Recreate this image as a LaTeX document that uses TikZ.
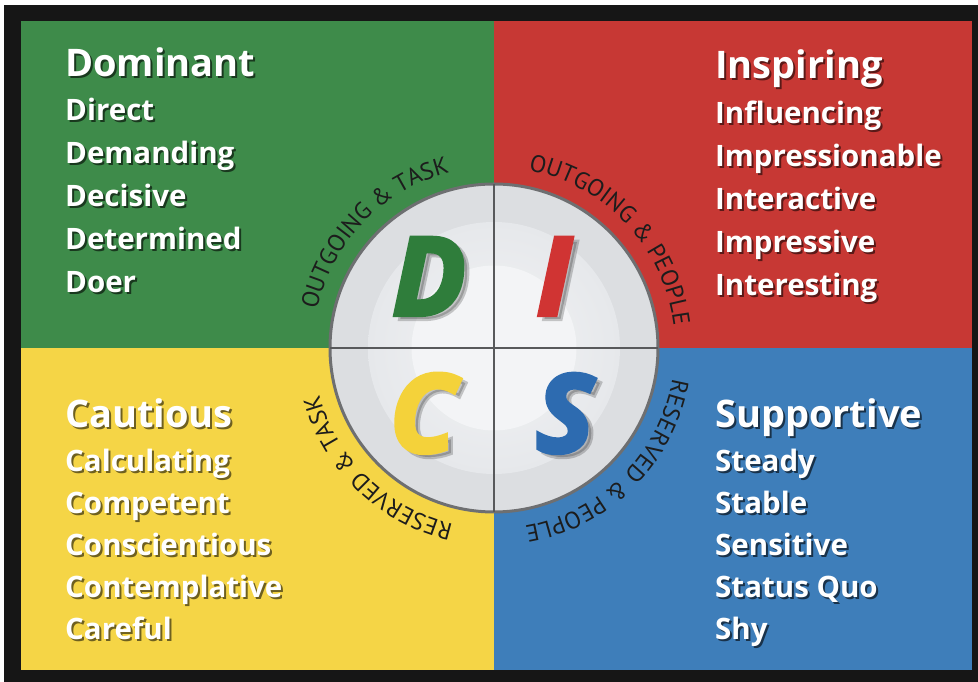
\documentclass[tikz,border=0pt]{standalone}
\usepackage{fontspec}
\setmainfont{Open Sans}
\newfontfamily\captionfont{PT Sans}
\newfontfamily\letterfont[FakeBold=4]{Open Sans}
\usetikzlibrary{positioning,decorations.text}

\definecolor{discgreen}{HTML}{3E8B4A}
\definecolor{discred}{HTML}{C73834}
\definecolor{discyellow}{HTML}{F5D546}
\definecolor{discblue}{HTML}{3E7EBA}
\definecolor{frameink}{HTML}{161616}
\definecolor{ringgray}{HTML}{6E6F71}
\definecolor{arcink}{HTML}{1C1C1C}
\definecolor{letterD}{HTML}{2F7D3B}
\definecolor{letterI}{HTML}{D03433}
\definecolor{letterC}{HTML}{F4D23A}
\definecolor{letterS}{HTML}{2D6BB0}

\newcommand\shadowed[1]{\rlap{\kern2pt\raisebox{-2pt}{\textcolor{shade}{#1}}}#1}
\newcommand\arcfont{\captionfont\fontsize{24}{24}\selectfont\color{arcink}}

\tikzset{
  heading/.style={text=white, font=\fontsize{38}{38}\selectfont\bfseries,
    inner sep=0pt, text height=28pt, text depth=8pt, anchor=base west},
  trait/.style={text=white, font=\fontsize{29.5}{29.5}\selectfont\bfseries,
    inner sep=0pt, text height=22pt, text depth=7pt},
  letter/.style={font=\letterfont\fontsize{108}{108}\selectfont\bfseries\itshape,
    inner sep=0pt, anchor=base},
  lettershadow/.style={letter, text=black, text opacity=.2},
  arcword/.style={decorate, decoration={text along path, text align=center,
    text={|\arcfont|#1}}},
}

\begin{document}
\begin{tikzpicture}[x=1pt, y=1pt]
  \useasboundingbox[fill=white] (0,0) rectangle (978,682);
  % frame and quadrants
  \fill[frameink] (4,0) rectangle (978,677);
  \fill[discgreen] (21,334) rectangle (494,661);
  \fill[discred] (494,334) rectangle (972,661);
  \fill[discyellow] (21,12) rectangle (494,334);
  \fill[discblue] (494,12) rectangle (972,334);

  % the disc
  \node[circle, minimum size=328pt, outer sep=0pt, fill={rgb,255:red,220;green,222;blue,225},
    draw=ringgray, line width=3pt] (disc) at (494,334) {};
  \node[circle, minimum size=252pt, inner color={rgb,255:red,242;green,243;blue,245},
    outer color={rgb,255:red,230;green,232;blue,235}] (ring) at (disc.center) {};
  \node[circle, minimum size=165pt, fill={rgb,255:red,243;green,244;blue,246}] (core) at (disc.center) {};
  \draw[ringgray!80!black, line width=2pt] (disc.north) -- (disc.south);
  \draw[ringgray!80!black, line width=2pt] (disc.west) -- (disc.east);

  % letters
  \node[lettershadow] (Dsh) at (434,363) {D};
  \node[letter, text=letterD] (D) at (429,367) {D};
  \node[lettershadow] (Ish) at (559,363) {I};
  \node[letter, text=letterI] (I) at (554,367) {I};
  \node[lettershadow] (Csh) at (428,226) {C};
  \node[letter, text=letterC] (C) at (423,230) {C};
  \node[lettershadow] (Ssh) at (570,226) {S};
  \node[letter, text=letterS] (S) at (565,230) {S};

  % curved captions
  \path[arcword={OUTGOING {\&} TASK}] ([shift={(186:181pt)}]disc.center)
    arc[start angle=186, end angle=86, radius=181pt];
  \path[arcword={OUTGOING {\&} PEOPLE}] ([shift={(93:181pt)}]disc.center)
    arc[start angle=93, end angle=-7, radius=181pt];
  \path[arcword={RESERVED {\&} PEOPLE}] ([shift={(5:181pt)}]disc.center)
    arc[start angle=5, end angle=-95, radius=181pt];
  \path[arcword={RESERVED {\&} TASK}] ([shift={(276:181pt)}]disc.center)
    arc[start angle=276, end angle=176, radius=181pt];

  % Dominant
  \begin{scope}
    \colorlet{shade}{discgreen!40!black}
    \node[heading] (dom) at (65,605) {\shadowed{Dominant}};
    \node[trait, below right=13.6pt and 0pt of dom.south west] (dom1) {\shadowed{Direct}};
    \node[trait, below right=13.6pt and 0pt of dom1.south west] (dom2) {\shadowed{Demanding}};
    \node[trait, below right=13.6pt and 0pt of dom2.south west] (dom3) {\shadowed{Decisive}};
    \node[trait, below right=13.6pt and 0pt of dom3.south west] (dom4) {\shadowed{Determined}};
    \node[trait, below right=13.6pt and 0pt of dom4.south west] (dom5) {\shadowed{Doer}};
  \end{scope}

  % Inspiring
  \begin{scope}
    \colorlet{shade}{discred!45!black}
    \node[heading] (ins) at (715,603) {\shadowed{Inspiring}};
    \node[trait, below right=13.8pt and 0pt of ins.south west] (ins1) {\shadowed{Influencing}};
    \node[trait, below right=13.8pt and 0pt of ins1.south west] (ins2) {\shadowed{Impressionable}};
    \node[trait, below right=13.8pt and 0pt of ins2.south west] (ins3) {\shadowed{Interactive}};
    \node[trait, below right=13.8pt and 0pt of ins3.south west] (ins4) {\shadowed{Impressive}};
    \node[trait, below right=13.8pt and 0pt of ins4.south west] (ins5) {\shadowed{Interesting}};
  \end{scope}

  % Cautious
  \begin{scope}
    \colorlet{shade}{discyellow!45!black}
    \node[heading] (cau) at (65,254) {\shadowed{Cautious}};
    \node[trait, below right=13pt and 0pt of cau.south west] (cau1) {\shadowed{Calculating}};
    \node[trait, below right=12.6pt and 0pt of cau1.south west] (cau2) {\shadowed{Competent}};
    \node[trait, below right=12.6pt and 0pt of cau2.south west] (cau3) {\shadowed{Conscientious}};
    \node[trait, below right=12.6pt and 0pt of cau3.south west] (cau4) {\shadowed{Contemplative}};
    \node[trait, below right=12.6pt and 0pt of cau4.south west] (cau5) {\shadowed{Careful}};
  \end{scope}

  % Supportive
  \begin{scope}
    \colorlet{shade}{discblue!40!black}
    \node[heading] (sup) at (715,254) {\shadowed{Supportive}};
    \node[trait, below right=13pt and 0pt of sup.south west] (sup1) {\shadowed{Steady}};
    \node[trait, below right=12.6pt and 0pt of sup1.south west] (sup2) {\shadowed{Stable}};
    \node[trait, below right=12.6pt and 0pt of sup2.south west] (sup3) {\shadowed{Sensitive}};
    \node[trait, below right=12.6pt and 0pt of sup3.south west] (sup4) {\shadowed{Status Quo}};
    \node[trait, below right=12.6pt and 0pt of sup4.south west] (sup5) {\shadowed{Shy}};
  \end{scope}
\end{tikzpicture}
\end{document}
